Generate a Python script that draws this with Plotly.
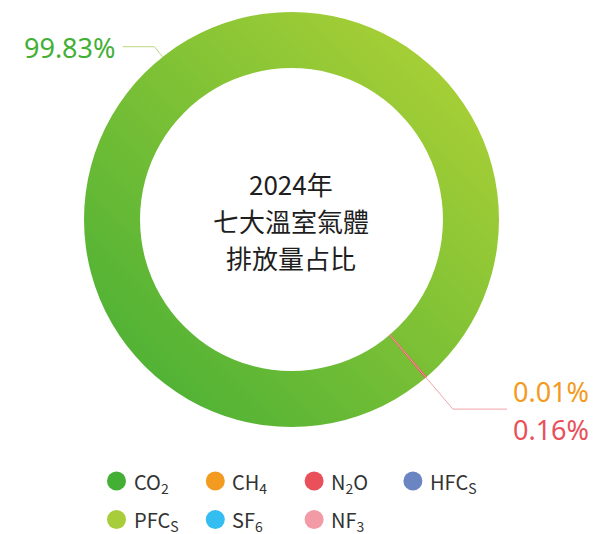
import base64
import math
import plotly.graph_objects as go

# ---------------- data ----------------
gases = ["CO<sub>2</sub>", "CH<sub>4</sub>", "N<sub>2</sub>O", "HFC<sub>S</sub>",
         "PFC<sub>S</sub>", "SF<sub>6</sub>", "NF<sub>3</sub>"]
shares = [99.83, 0.01, 0.16, 0.0, 0.0, 0.0, 0.0]
gas_colors = ["#43b035", "#f39a20", "#e9505a", "#6a85c2", "#a8cd3a", "#34bdf0", "#f29ba6"]
center_lines = ["2024年", "七大溫室氣體", "排放量占比"]

# ---------------- geometry (pixels) ----------------
W, H = 594, 534
CX, CY, R = 291.5, 219.5, 207.5
HOLE = 0.73
ROT = 139.9
FONT = "Noto Sans CJK TC, Noto Sans, sans-serif"
NUMFONT = "Noto Sans, Noto Sans CJK TC, sans-serif"


def px(x):
    return x / W


def py(y):
    return 1 - y / H


def polar(r, ang):
    a = math.radians(ang)
    return CX + r * math.sin(a), CY - r * math.cos(a)


slice_colors = ["rgba(0,0,0,0)"] + gas_colors[1:]

fig = go.Figure()
fig.add_trace(go.Pie(
    labels=gases, values=shares, sort=False, direction="clockwise",
    rotation=ROT, hole=HOLE, textinfo="none", showlegend=False,
    marker=dict(colors=slice_colors, line=dict(width=0)),
    domain=dict(x=[px(CX - R), px(CX + R)], y=[py(CY + R), py(CY - R)]),
))

# gradient ring underneath the CO2 slice
size = 2 * R
svg = (
    f'<svg xmlns="http://www.w3.org/2000/svg" width="{size}" height="{size}" viewBox="0 0 {size} {size}">'
    '<defs><linearGradient id="g" x1="0" y1="1" x2="1" y2="0">'
    '<stop offset="0" stop-color="#41ad35"/><stop offset="1" stop-color="#b6d436"/>'
    '</linearGradient></defs>'
    f'<path fill="url(#g)" fill-rule="evenodd" d="M {R},0 A {R},{R} 0 1,1 {R-0.001},0 Z '
    f'M {R},{R - R*HOLE} A {R*HOLE},{R*HOLE} 0 1,1 {R-0.001},{R - R*HOLE} Z"/>'
    '</svg>'
)
src = "data:image/svg+xml;base64," + base64.b64encode(svg.encode()).decode()

shapes = []
annotations = []

# angles from data
total = sum(shares)
co2_mid = ROT + shares[0] / total * 360 / 2 + 2.0
small_mid = ROT + (shares[0] + (shares[1] + shares[2]) / 2) / total * 360

# upper leader (CO2)
x0, y0 = polar(R, co2_mid)
x1, y1 = polar(R + 13, co2_mid)
x2 = x1 - 32
shapes.append(dict(type="path", xref="paper", yref="paper",
                   path=f"M {px(x0)},{py(y0)} L {px(x1)},{py(y1)} L {px(x2)},{py(y1)}",
                   line=dict(color="#b9d97a", width=1)))
annotations.append(dict(text=f"{shares[0]:.2f}%", x=px(x2 - 6), y=py(y1 + 1), xref="paper", yref="paper",
                        xanchor="right", yanchor="middle", showarrow=False,
                        font=dict(family=NUMFONT, size=27, color=gas_colors[0])))

# lower leader (CH4 / N2O)
x0, y0 = polar(R * HOLE, small_mid)
x1, y1 = polar(249, small_mid)
x2 = 507
shapes.append(dict(type="path", xref="paper", yref="paper",
                   path=f"M {px(x0)},{py(y0)} L {px(x1)},{py(y1)} L {px(x2)},{py(y1)}",
                   line=dict(color="#f4a3ac", width=1)))
annotations.append(dict(text=f"{shares[1]:.2f}%", x=px(511), y=py(y1 - 18), xref="paper", yref="paper",
                        xanchor="left", yanchor="middle", showarrow=False,
                        font=dict(family=NUMFONT, size=27, color=gas_colors[1])))
annotations.append(dict(text=f"{shares[2]:.2f}%", x=px(511), y=py(y1 + 20), xref="paper", yref="paper",
                        xanchor="left", yanchor="middle", showarrow=False,
                        font=dict(family=NUMFONT, size=27, color=gas_colors[2])))

# center text
for i, line in enumerate(center_lines):
    annotations.append(dict(text=line, x=px(CX - 1), y=py(184 + i * 36.7), xref="paper", yref="paper",
                            xanchor="center", yanchor="middle", showarrow=False,
                            font=dict(family=FONT, size=26, color="#1e1e1e")))

# legend (circles + labels)
for i, (name, col) in enumerate(zip(gases, gas_colors)):
    row, c = divmod(i, 4)
    cx = 116.5 + c * 98.8
    cy = 481 + row * 38.5
    r = 9.5
    shapes.append(dict(type="circle", xref="paper", yref="paper",
                       x0=px(cx - r), x1=px(cx + r), y0=py(cy + r), y1=py(cy - r),
                       fillcolor=col, line=dict(width=0)))
    annotations.append(dict(text=name, x=px(cx + 15), y=py(cy + 1), xref="paper", yref="paper",
                            xanchor="left", yanchor="middle", showarrow=False,
                            font=dict(family=FONT, size=20, color="#333333")))

fig.update_layout(
    width=W, height=H, margin=dict(l=0, r=0, t=0, b=0),
    paper_bgcolor="white", plot_bgcolor="white",
    showlegend=False,
    images=[dict(source=src, xref="paper", yref="paper", x=px(CX - R), y=py(CY - R),
                 sizex=px(2 * R), sizey=2 * R / H, xanchor="left", yanchor="top",
                 sizing="stretch", layer="below")],
    shapes=shapes, annotations=annotations,
)

fig.write_html("out.html")
